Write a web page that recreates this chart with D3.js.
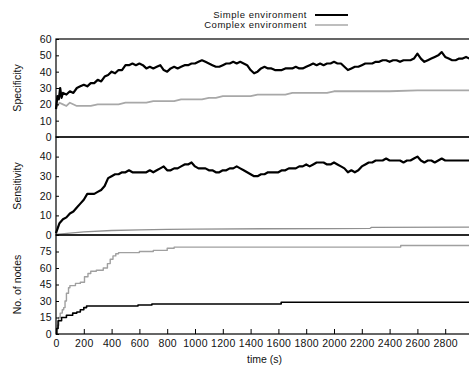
<!DOCTYPE html>
<html>
<head>
<meta charset="utf-8">
<script src="https://cdn.jsdelivr.net/npm/d3@7"></script>
<style>
  body { margin: 0; background: #fff; }
  text { font-family: "Liberation Sans", Arial, sans-serif; }
</style>
</head>
<body>
<div id="container"></div>
<script>
/* CONSTANTS AND GLOBALS */
const width = 469,
  height = 367,
  margin = {left: 56, right: -4};

// x positions (time in seconds)
const timeTicks = [0, 200, 400, 600, 800, 1000, 1200, 1400, 1600, 1800, 2000, 2200, 2400, 2600, 2800];

// panel 1 : specificity
const specTicks = [0, 10, 20, 30, 40, 50, 60];
const specSimple = [[0,17],[10,25],[20,23],[30,30],[40,24],[50,27],[75,26],[100,28],[125,27],[150,30],[175,31],[200,32],
  [225,31],[250,33],[275,33],[300,35],[325,34],[350,37],[375,38],[400,40],[425,39],[450,41],[475,41],[500,44],[525,44],
  [550,45],[575,44],[600,45],[625,44],[650,42],[675,43],[700,42],[725,43],[750,44],[775,41],[800,40],[825,42],[850,43],
  [875,42],[900,43],[925,44],[950,44],[975,45],[1000,45],[1025,46],[1050,47],[1075,46],[1100,45],[1125,44],[1150,43],
  [1175,43],[1200,44],[1225,45],[1250,45],[1275,46],[1300,45],[1325,46],[1350,45],[1375,44],[1400,41],[1425,39],[1450,40],
  [1475,42],[1500,43],[1525,42],[1550,42],[1575,41],[1600,41],[1625,41],[1650,42],[1675,42],[1700,42],[1725,43],[1750,42],
  [1775,42],[1800,43],[1825,44],[1850,45],[1875,44],[1900,45],[1925,44],[1950,45],[1975,45],[2000,46],[2025,45],[2050,45],
  [2075,43],[2100,41],[2125,42],[2150,43],[2175,43],[2200,44],[2225,45],[2250,45],[2275,45],[2300,46],[2325,46],[2350,47],
  [2375,47],[2400,46],[2425,47],[2450,47],[2475,46],[2500,47],[2525,47],[2550,47],[2575,48],[2600,51],[2625,48],[2650,46],
  [2675,47],[2700,48],[2725,49],[2750,50],[2775,52],[2800,49],[2825,48],[2850,47],[2875,47],[2900,48],[2925,48],[2950,49],
  [2975,48],[3000,49]];
const specComplex = [[0,18],[25,21],[50,20],[75,19],[100,21],[150,19],[200,19],[250,19],[300,20],[350,20],[400,20],[450,20],
  [500,21],[550,21],[600,21],[650,21],[700,22],[750,22],[800,22],[850,22],[900,23],[950,23],[1000,23],[1050,23],[1100,24],
  [1150,24],[1200,25],[1250,25],[1300,25],[1350,25],[1400,25],[1450,26],[1500,26],[1550,26],[1600,26],[1650,26],[1700,27],
  [1750,27],[1800,27],[1850,27],[1900,27],[1950,27],[2000,28],[2200,28],[2400,28],[2600,28.5],[2800,28.5],[3000,28.5]];

// panel 2 : sensitivity
const sensTicks = [0, 10, 20, 30, 40];
const sensSimple = [[0,1],[25,6],[50,8],[75,9],[100,11],[125,12],[150,14],[175,16],[200,18],[225,21],[250,21],[275,21],
  [300,22],[325,23],[350,25],[375,29],[400,30],[425,31],[450,31],[475,32],[500,32],[525,33],[550,32],[575,32],[600,32],
  [625,32],[650,32],[675,33],[700,32],[725,33],[750,34],[775,35],[800,33],[825,33],[850,34],[875,34],[900,35],[925,36],
  [950,36],[975,37],[1000,35],[1025,34],[1050,34],[1075,34],[1100,33],[1125,33],[1150,32],[1175,32],[1200,33],[1225,33],
  [1250,34],[1275,34],[1300,35],[1325,34],[1350,33],[1375,32],[1400,31],[1425,30],[1450,30],[1475,31],[1500,31],[1525,32],
  [1550,32],[1575,32],[1600,32],[1625,33],[1650,33],[1675,34],[1700,34],[1725,34],[1750,35],[1775,35],[1800,36],[1825,35],
  [1850,36],[1875,37],[1900,37],[1925,37],[1950,36],[1975,36],[2000,37],[2025,36],[2050,35],[2075,34],[2100,32],[2125,33],
  [2150,32],[2175,33],[2200,35],[2225,36],[2250,37],[2275,37],[2300,38],[2325,38],[2350,38],[2375,39],[2400,38],[2425,38],
  [2450,38],[2475,38],[2500,37],[2525,38],[2550,38],[2575,39],[2600,40],[2625,38],[2650,37],[2675,38],[2700,38],[2725,37],
  [2750,38],[2775,39],[2800,38],[2825,38],[2850,38],[2875,38],[2900,38],[2925,38],[2950,38],[2975,38],[3000,38]];
const sensComplex = [[0,0.3],[100,1],[200,1.6],[400,2.3],[600,2.6],[800,2.9],[1000,3],[1500,3.2],[2000,3.3],[2260,3.4],
  [2270,3.9],[3000,4]];

// panel 3 : number of nodes (step series)
const nodeTicks = [0, 15, 30, 45, 60, 75];
const nodesSimple = [[0,0],[5,5],[15,12],[40,15],[75,17],[120,19],[150,20],[175,22],[200,24],[220,25.5],[590,26.4],
  [690,27.3],[1620,28.8],[3000,28.8]];
const nodesComplex = [[0,0],[10,8],[20,15],[30,19],[45,22],[55,24],[65,30],[75,37],[90,42],[100,44],[140,46],[175,47],
  [205,52],[230,55],[250,57],[290,58],[340,60],[370,64],[390,68],[410,71],[430,73],[450,74],[600,75],[700,76],[800,78],
  [850,79],[2480,80.5],[3000,80.5]];

const legendItems = [
  {label: "Simple environment", color: "#000"},
  {label: "Complex environment", color: "#a8a8a8"}
];

/* SVG */
const svg = d3.select("#container")
  .append("svg")
  .attr("width", width)
  .attr("height", height)
  .style("background", "#fff");

const xScale = d3.scaleLinear()
  .domain([0, 3000])
  .range([margin.left, width - margin.right]);

const panels = [
  {title: "Specificity", domain: [0, 60], range: [137, 39], ticks: specTicks,
    series: [{data: specComplex, color: "#a8a8a8", w: 1.8}, {data: specSimple, color: "#000", w: 2.2}]},
  {title: "Sensitivity", domain: [0, 50], range: [235, 137], ticks: sensTicks,
    series: [{data: sensComplex, color: "#909090", w: 1.3}, {data: sensSimple, color: "#000", w: 2.2}]},
  {title: "No. of nodes", domain: [0, 90], range: [334, 235], ticks: nodeTicks, step: true,
    series: [{data: nodesComplex, color: "#a0a0a0", w: 1.4}, {data: nodesSimple, color: "#000", w: 1.6}]}
];

panels.forEach(p => {
  const yScale = d3.scaleLinear().domain(p.domain).range(p.range);
  const g = svg.append("g");

  // lines
  const lineGen = d3.line()
    .x(d => xScale(d[0]))
    .y(d => yScale(d[1]))
    .curve(p.step ? d3.curveStepAfter : d3.curveLinear);

  g.selectAll(".line")
    .data(p.series)
    .join("path")
    .attr("class", "line")
    .attr("fill", "none")
    .attr("stroke", d => d.color)
    .attr("stroke-width", d => d.w)
    .attr("stroke-linejoin", "round")
    .attr("d", d => lineGen(d.data));

  // y axis (ticks inward)
  const yAxis = d3.axisLeft(yScale).tickValues(p.ticks).tickSize(-3).tickPadding(4);
  g.append("g")
    .attr("transform", `translate(${margin.left},0)`)
    .call(yAxis)
    .call(a => a.select(".domain").remove())
    .call(a => a.selectAll("text").attr("font-size", 10.5).attr("letter-spacing", 0.3).attr("fill", "#111"));

  const yAxisR = d3.axisRight(yScale).tickValues(p.ticks).tickSize(-3).tickFormat("");
  g.append("g")
    .attr("transform", `translate(${width - margin.right},0)`)
    .call(yAxisR)
    .call(a => a.select(".domain").remove());

  // frame
  g.append("rect")
    .attr("x", margin.left)
    .attr("y", p.range[1])
    .attr("width", xScale.range()[1] - margin.left)
    .attr("height", p.range[0] - p.range[1])
    .attr("fill", "none")
    .attr("stroke", "#000")
    .attr("stroke-width", 1.2);

  // title
  svg.append("text")
    .attr("transform", `translate(18,${(p.range[0] + p.range[1]) / 2}) rotate(-90)`)
    .attr("text-anchor", "middle")
    .attr("dominant-baseline", "middle")
    .attr("font-size", 10.5)
    .attr("fill", "#111")
    .text(p.title);
});

// x axis on bottom panel
const xAxis = d3.axisBottom(xScale).tickValues(timeTicks).tickFormat(d3.format("d")).tickSize(-5).tickPadding(6);
svg.append("g")
  .attr("transform", `translate(0,334)`)
  .call(xAxis)
  .call(a => a.select(".domain").remove())
  .call(a => a.selectAll("text").attr("font-size", 10.5).attr("letter-spacing", 0.3).attr("fill", "#111"));

svg.append("text")
  .attr("x", (margin.left + xScale.range()[1]) / 2)
  .attr("y", 360)
  .attr("text-anchor", "middle")
  .attr("dominant-baseline", "middle")
  .attr("font-size", 10.5)
  .attr("fill", "#111")
  .text("time (s)");

// legend
const legend = svg.selectAll(".legend")
  .data(legendItems)
  .join("g")
  .attr("class", "legend")
  .attr("transform", (d, i) => `translate(0,${15 + i * 10})`);

legend.append("text")
  .attr("x", 307)
  .attr("text-anchor", "end")
  .attr("dominant-baseline", "middle")
  .attr("font-size", 9.5)
  .attr("letter-spacing", 0.55)
  .attr("fill", "#111")
  .text(d => d.label);

legend.append("line")
  .attr("x1", 315)
  .attr("x2", 348)
  .attr("stroke", d => d.color)
  .attr("stroke-width", (d, i) => i === 0 ? 2 : 1.5);
</script>
</body>
</html>
